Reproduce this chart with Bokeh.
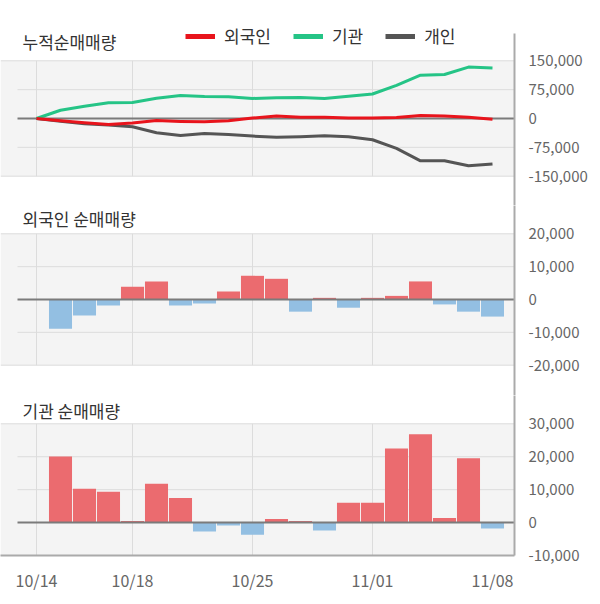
from bokeh.plotting import figure
from bokeh.layouts import column
from bokeh.models import (FixedTicker, NumeralTickFormatter, BoxAnnotation, Label,
                          Legend, LegendItem, Range1d, ColumnDataSource)
from bokeh.embed import file_html
from bokeh.resources import INLINE

# ---------------- data ----------------
dates = ["10/14", "10/15", "10/16", "10/17", "10/18", "10/21", "10/22", "10/23", "10/24", "10/25",
         "10/28", "10/29", "10/30", "10/31", "11/01", "11/04", "11/05", "11/06", "11/07", "11/08"]

cum_foreign = [0, -6000, -11000, -15500, -11500, -5500, -7500, -8500, -6000, 1000,
               6800, 3500, 3000, 1000, 1000, 2500, 8000, 6200, 3500, -2000]
cum_inst = [0, 21500, 32000, 41000, 41500, 52500, 59800, 57000, 56500, 52200,
            54000, 54500, 52000, 58000, 63600, 86000, 112500, 114500, 133700, 131000]
cum_indiv = [0, -6900, -13800, -17200, -21500, -37000, -44000, -38800, -41400, -45700,
             -49000, -47400, -44800, -47400, -55200, -77600, -110000, -110000, -123000, -118000]

bar_dates = dates[1:]
foreign_net = [-8900, -4900, -1800, 3900, 5500, -1800, -1200, 2400, 7200, 6300,
               -3700, 500, -2500, 500, 1100, 5500, -1500, -3700, -5200]
inst_net = [20100, 10300, 9400, 500, 11800, 7500, -2700, -900, -3700, 1100,
            500, -2400, 6000, 6000, 22500, 26800, 1400, 19500, -1800]

cum_ticks = [-150000, -75000, 0, 75000, 150000]
foreign_ticks = [-20000, -10000, 0, 10000, 20000]
inst_ticks = [-10000, 0, 10000, 20000, 30000]
date_label_idx = [0, 4, 9, 14, 19]
grid_idx = [0, 4, 9, 14]

series_names = ["외국인", "기관", "개인"]
titles = ["누적순매매량", "외국인 순매매량", "기관 순매매량"]

# ---------------- styling ----------------
FONT = "Noto Sans CJK KR"
C_FOREIGN, C_INST, C_INDIV = "#e8141c", "#25c486", "#555555"
C_POS, C_NEG = "#eb6b6f", "#93bfe2"
PANEL_BG = "#f4f4f4"
GRID = "#dcdcdc"
ZERO = "#7b7b7b"
TITLE_SIZE = "17px"

X0_PX, STEP = 36, 24
FL, FR = 0, 514
GRID_LEFT_PX = 17
x_start = (FL - X0_PX) / STEP
x_end = (FR - X0_PX) / STEP


def px_x(px):
    return (px - X0_PX) / STEP


def make_panel(frame_top, frame_bot, v_hi, px_hi, v_lo, px_lo, ticks, border_top, border_bottom,
               show_x, axis_top_px=None):
    scale = (v_hi - v_lo) / (px_lo - px_hi)
    y_end = v_hi + (px_hi - frame_top) * scale
    y_start = v_lo - (frame_bot - px_lo) * scale

    def yv(py):
        return y_end - (py - frame_top) * scale

    p = figure(frame_width=FR - FL, frame_height=frame_bot - frame_top,
               x_range=Range1d(x_start, x_end), y_range=Range1d(y_start, y_end),
               y_axis_location="right", x_axis_location="below" if show_x else None,
               toolbar_location=None, output_backend="svg",
               min_border_left=0, min_border_right=80,
               min_border_top=border_top, min_border_bottom=border_bottom)
    p.outline_line_color = None
    p.background_fill_color = "white"
    p.border_fill_color = "white"
    p.add_layout(BoxAnnotation(bottom=v_lo, top=v_hi, fill_color=PANEL_BG, fill_alpha=1,
                               line_color=None, level="image"))
    p.xgrid.visible = False
    p.ygrid.visible = False
    inner = [t for t in ticks if t not in (v_lo, v_hi, 0)]
    edges = [t for t in ticks if t in (v_lo, v_hi)]
    p.segment(x0=[px_x(GRID_LEFT_PX)] * len(inner), x1=[x_end] * len(inner), y0=inner, y1=inner,
              line_color=GRID, line_width=1, level="underlay")
    p.segment(x0=[x_start] * len(edges), x1=[x_end] * len(edges), y0=edges, y1=edges,
              line_color=GRID, line_width=1, level="underlay")
    p.segment(x0=grid_idx, x1=grid_idx, y0=[v_lo] * len(grid_idx), y1=[v_hi] * len(grid_idx),
              line_color=GRID, line_width=1, level="underlay")
    ax = p.yaxis[0]
    ax.ticker = FixedTicker(ticks=ticks)
    ax.formatter = NumeralTickFormatter(format="0,0")
    ax.major_label_text_font = FONT
    ax.major_label_text_font_size = "15px"
    ax.major_label_text_color = "#666666"
    ax.major_label_standoff = 8
    ax.major_tick_line_color = None
    ax.minor_tick_line_color = None
    ax.axis_line_color = "#aaaaaa"
    ax.axis_line_width = 2
    if axis_top_px is not None:
        ax.bounds = (y_start, yv(axis_top_px))
    return p, yv


def zero_line(p):
    p.segment(x0=[px_x(GRID_LEFT_PX)], x1=[x_end], y0=[0], y1=[0], line_color=ZERO, line_width=2)


# ---------------- panel 1: cumulative ----------------
p1, yv1 = make_panel(12, 205, 150000, 60.3, -150000, 175.7, cum_ticks, 12, 0, False, axis_top_px=33)
zero_line(p1)
xs = list(range(len(dates)))
src = ColumnDataSource(dict(x=xs, f=cum_foreign, i=cum_inst, d=cum_indiv))
p1.line("x", "d", source=src, line_color=C_INDIV, line_width=3, line_join="round")
p1.line("x", "i", source=src, line_color=C_INST, line_width=3, line_join="round")
p1.line("x", "f", source=src, line_color=C_FOREIGN, line_width=3, line_join="round")

dummies = []
for c in (C_FOREIGN, C_INST, C_INDIV):
    dummies.append(p1.line(x=[0], y=[0], line_color=c, line_width=5))
legend = Legend(items=[LegendItem(label=n, renderers=[r]) for n, r in zip(series_names, dummies)],
                orientation="horizontal", location=(185, 205 - 48),
                background_fill_alpha=0, border_line_color=None,
                label_text_font=FONT, label_text_font_size=TITLE_SIZE, label_text_color="#333333",
                glyph_width=30, glyph_height=20, label_height=20, label_standoff=9,
                spacing=22, padding=0, margin=0)
p1.add_layout(legend)
p1.add_layout(Label(x=px_x(22), y=yv1(41), text=titles[0], text_baseline="middle",
                    text_font=FONT, text_font_size=TITLE_SIZE, text_color="#333333"))

# ---------------- panel 2: foreign ----------------
p2, yv2 = make_panel(205, 395, 20000, 233.3, -20000, 364.7, foreign_ticks, 0, 0, False)
bx = list(range(1, len(dates)))
p2.vbar(x=bx, top=foreign_net, width=0.96,
        fill_color=[C_POS if v >= 0 else C_NEG for v in foreign_net], line_color=None)
zero_line(p2)
p2.add_layout(Label(x=px_x(22), y=yv2(218), text=titles[1], text_baseline="middle",
                    text_font=FONT, text_font_size=TITLE_SIZE, text_color="#333333"))

# ---------------- panel 3: institution ----------------
p3, yv3 = make_panel(395, 555, 30000, 423.3, -10000, 555, inst_ticks, 0, 40, True)
p3.vbar(x=bx, top=inst_net, width=0.96,
        fill_color=[C_POS if v >= 0 else C_NEG for v in inst_net], line_color=None)
zero_line(p3)
p3.add_layout(Label(x=px_x(22), y=yv3(410), text=titles[2], text_baseline="middle",
                    text_font=FONT, text_font_size=TITLE_SIZE, text_color="#333333"))
xa = p3.xaxis[0]
xa.ticker = FixedTicker(ticks=date_label_idx)
xa.major_label_overrides = {i: dates[i] for i in date_label_idx}
xa.major_label_text_font = FONT
xa.major_label_text_font_size = "16px"
xa.major_label_text_color = "#666666"
xa.major_label_standoff = 6
xa.major_tick_line_color = None
xa.minor_tick_line_color = None
xa.axis_line_color = "#aaaaaa"
xa.axis_line_width = 2

layout = column(p1, p2, p3)
open("out.html", "w").write(file_html(layout, INLINE))
